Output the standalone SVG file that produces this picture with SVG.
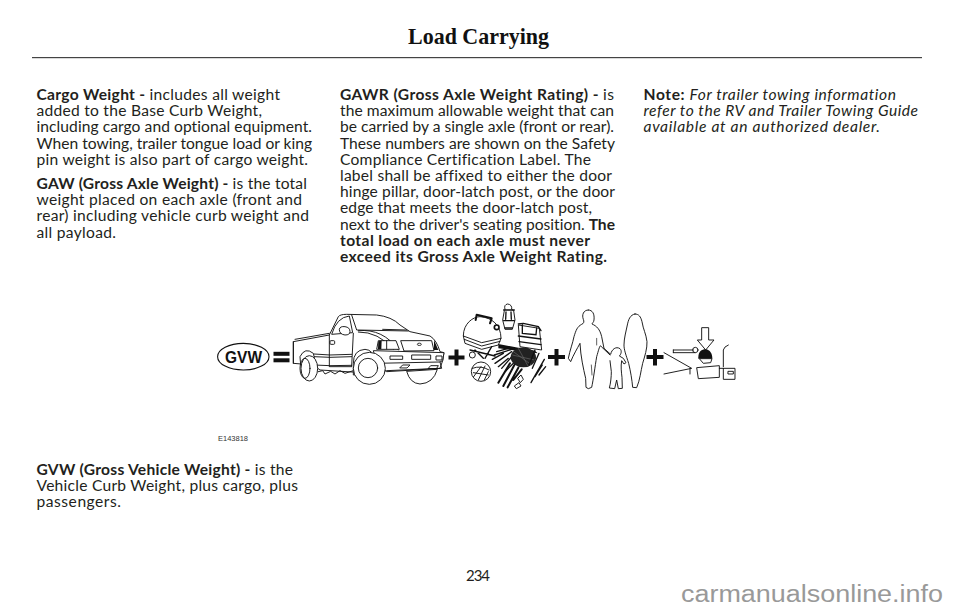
<svg xmlns="http://www.w3.org/2000/svg" width="960" height="611" viewBox="0 0 960 611">
<style>
.t{font-family:"Lato","Open Sans","Liberation Sans",sans-serif;font-size:15.6px;fill:#231f20;font-variant-ligatures:none}
.b{font-weight:700}
.i{font-style:italic}
.h{font-family:"Liberation Serif",serif;font-size:23px;font-weight:700;fill:#111}
.l{fill:none;stroke:#111;stroke-width:2.8;stroke-linejoin:round;stroke-linecap:round}
.n{fill:none;stroke:#111;stroke-width:2;stroke-linejoin:round;stroke-linecap:round}
.w{fill:#fff;stroke:#111;stroke-width:2.8;stroke-linejoin:round}
.k{fill:#111;stroke:none}
.s{fill:none;stroke:#111;stroke-width:6;stroke-linecap:round}
.s2{fill:none;stroke:#111;stroke-width:4;stroke-linecap:round}
</style>
<rect width="960" height="611" fill="#fff"/>
<text class="h" x="408" y="44" textLength="141" lengthAdjust="spacingAndGlyphs">Load Carrying</text>
<rect x="32" y="57" width="890" height="1.200" fill="#444"/>
<g id="col1">
<text class="t" x="36.500" y="100" textLength="243.500"><tspan class="b">Cargo Weight - </tspan>includes all weight</text>
<text class="t" x="36.500" y="116.200" textLength="225.500">added to the Base Curb Weight,</text>
<text class="t" x="36.500" y="132.400" textLength="275.500">including cargo and optional equipment.</text>
<text class="t" x="36.500" y="148.600" textLength="275.500">When towing, trailer tongue load or king</text>
<text class="t" x="36.500" y="164.800" textLength="271.500">pin weight is also part of cargo weight.</text>
<text class="t" x="36.500" y="189" textLength="270.500"><tspan class="b">GAW (Gross Axle Weight) - </tspan>is the total</text>
<text class="t" x="36.500" y="205.200" textLength="265.500">weight placed on each axle (front and</text>
<text class="t" x="36.500" y="221.400" textLength="272.500">rear) including vehicle curb weight and</text>
<text class="t" x="36.500" y="237.600" textLength="79.500">all payload.</text>
</g>
<g id="col2">
<text class="t" x="340" y="100" textLength="274"><tspan class="b">GAWR (Gross Axle Weight Rating) - </tspan> is</text>
<text class="t" x="340" y="116.200" textLength="274">the maximum allowable weight that can</text>
<text class="t" x="340" y="132.400" textLength="274">be carried by a single axle (front or rear).</text>
<text class="t" x="340" y="148.600" textLength="275">These numbers are shown on the Safety</text>
<text class="t" x="340" y="164.800" textLength="251">Compliance Certification Label. The</text>
<text class="t" x="340" y="181" textLength="272">label shall be affixed to either the door</text>
<text class="t" x="340" y="197.200" textLength="275">hinge pillar, door-latch post, or the door</text>
<text class="t" x="340" y="213.400" textLength="252">edge that meets the door-latch post,</text>
<text class="t" x="340" y="229.600" textLength="275">next to the driver's seating position. <tspan class="b">The</tspan></text>
<text class="t b" x="340" y="245.800" textLength="250">total load on each axle must never</text>
<text class="t b" x="340" y="262" textLength="267">exceed its Gross Axle Weight Rating.</text>
</g>
<g id="col3">
<text class="t" x="643.500" y="100" textLength="252.500"><tspan class="b">Note:  </tspan><tspan class="i">For trailer towing information</tspan></text>
<text class="t i" x="643.500" y="116.200" textLength="274.500">refer to the RV and Trailer Towing Guide</text>
<text class="t i" x="643.500" y="132.400" textLength="236.500">available at an authorized dealer.</text>
</g>
<g id="gvw">
<ellipse cx="243.300" cy="356.700" rx="25.700" ry="13.300" fill="#fff" stroke="#111" stroke-width="1.100"/>
<text x="225" y="362.700" textLength="37" lengthAdjust="spacingAndGlyphs" style="font-family:'Liberation Sans',sans-serif;font-size:16.500px;font-weight:700;fill:#111">GVW</text>
<rect class="k" x="273.500" y="351.800" width="16" height="4"/>
<rect class="k" x="273.500" y="358.300" width="16" height="4"/>
</g>
<g id="truck" transform="translate(210,300) scale(.33333)">
<path class="w" d="M250 125L358 105L385 50Q390 43 410 43L500 45Q545 50 570 75L600 95L660 108Q680 120 690 155L702 158L698 182L690 205L530 212L490 220L330 210L310 195L250 190Z"/>
<path class="l" d="M255 118L358 100M358 105L358 200M250 125L250 190M312 162L360 165L425 163M312 170L360 172L425 170M312 195L360 197L425 196M430 100L425 198M360 200L425 200"/>
<path class="w" d="M365 103Q380 52 418 48L428 98Z"/>
<path class="w" d="M388 88Q390 78 405 80Q420 82 420 95Q420 105 405 105Q388 103 388 88Z"/>
<rect class="w" x="360" y="122" width="14" height="11" rx="3"/>
<path class="l" d="M425 45L440 90L595 93M445 92Q520 85 565 150M445 96Q505 95 550 148M518 88L590 90"/>
<path class="w" d="M500 148L505 122L558 122L568 148Z"/>
<path class="k" d="M505 124L515 122L514 147L504 147Z"/>
<path class="l" d="M530 122L530 147"/>
<path class="w" d="M572 122L665 122L672 152L582 153Z"/>
<path class="k" d="M672 120L685 150L672 150Z"/>
<ellipse cx="628" cy="133" rx="6" ry="3.500" fill="#fff" stroke="#111" stroke-width="2.500"/>
<path class="w" d="M490 152L702 158L698 182L690 186L500 190Z"/>
<rect class="w" x="540" y="168" width="38" height="10"/>
<rect class="w" x="605" y="165" width="57" height="13"/>
<rect class="w" x="678" y="168" width="18" height="12"/>
<path class="l" d="M500 190L530 215L695 205L690 186M570 203L578 195L600 195L592 203ZM655 205L662 197L685 197L680 205Z"/>
<path class="w" d="M590 214Q600 250 630 252Q670 250 682 208Z"/>
<path class="w" d="M270 170Q285 140 310 160L318 195L272 195Z"/>
<ellipse class="w" cx="298" cy="205" rx="25" ry="38"/>
<ellipse class="l" cx="285" cy="205" rx="15" ry="30"/>
<path class="l" d="M325 215L338 212L345 222L362 214L375 222L390 212L405 220L430 212"/>
<path class="w" d="M430 190Q430 150 465 148Q490 148 500 190L500 215L430 225Z"/>
<circle class="w" cx="478" cy="205" r="48"/>
<circle class="l" cx="474" cy="204" r="29"/>
</g>
<path id="plus1" class="k" d="M454.500 349.500H458.500V355.500H464.500V359.500H458.500V365.500H454.500V359.500H448.500V355.500H454.500Z"/>
<g id="cargo" transform="translate(455,300) scale(.33333)">
<path class="w" d="M25 108C25 70 55 50 75 50C110 52 138 75 138 115L130 135L80 148L30 130Z"/>
<path class="l" d="M25 108L80 128L138 115M28 118L80 138L135 124"/>
<path class="s" d="M65 44L110 55M65 44L62 60M110 55L105 70"/>
<circle cx="125" cy="82" r="7" fill="#fff" stroke="#111" stroke-width="5"/>
<path class="s2" d="M45 150L120 168M60 150L85 175M110 140L90 175"/>
<circle class="w" cx="52" cy="165" r="9" stroke-width="4"/>
<path class="k" d="M130 132L190 143L240 152L248 160L170 150L130 145Z"/>
<path class="s2" d="M125 155L160 145M118 165L170 148M112 178L145 160M120 190L170 155M130 200L160 175M140 205L175 165M150 215L185 180"/>
<path class="w" d="M150 28Q146 14 158 12Q172 14 170 28L176 32L180 60L172 88L150 88L143 60L148 32Z"/>
<path class="s2" d="M146 30L178 30M146 62L178 62M150 84L172 84M153 36L152 58M168 36L169 58"/>
<path class="w" d="M190 75L253 85L260 150L195 140Z"/>
<path class="s2" d="M190 108L258 117M192 125L258 134M190 72L205 70L250 80L258 92M202 75L202 100L243 104L245 84"/>
<circle class="w" cx="78" cy="215" r="29"/>
<path class="l" d="M52 205Q78 195 102 210M56 230L78 200M70 240L90 198M88 240L100 215M55 218L100 225"/>
<ellipse cx="205" cy="172" rx="38" ry="30" fill="#222"/>
<path d="M172 165L238 180M175 155L230 195M190 145L220 200" stroke="#666" stroke-width="2" fill="none"/>
<path class="s" d="M165 190L130 248M178 195L145 258M190 203L158 262M200 208L175 240"/>
<path class="s2" d="M240 150L222 195M252 160L232 205M268 178L228 248M262 195L240 230M272 200L252 225"/>
<path class="w" d="M188 235L198 225L205 238L196 248Z" stroke-width="4"/>
<path class="w" d="M178 258L192 248L198 258L184 266Z" stroke-width="4"/>
</g>
<path id="plus2" class="k" d="M554.500 349H558.500V355H565V359H558.500V365.500H554.500V359H548V355H554.500Z"/>
<g id="people" transform="translate(440,300) scale(.33333)">
<path class="l" d="M445 30C430 30 425 45 430 58C433 65 432 70 425 73C412 80 408 90 402 110C398 130 390 150 385 175L392 185C400 165 412 145 420 130C422 170 430 205 437 235L438 262L445 266L455 262C460 240 465 200 470 170C476 150 480 130 484 140L510 165M445 30C458 30 464 42 462 60C462 66 456 70 456 72C470 78 480 88 485 110L492 145"/>
<path class="n" d="M470 115L470 135M454 195L456 225" stroke-width="4"/>
<path class="l" d="M585 42C570 44 565 60 562 75C558 95 552 115 552 135C552 150 558 165 566 190C572 215 576 240 578 262L590 263C600 240 602 215 608 190C614 170 622 145 621 125C618 100 610 90 606 65C602 50 597 42 585 42Z"/>
<path class="l" d="M492 145L512 163C515 148 528 138 540 146C546 152 544 162 538 168L550 175L558 188L552 192L545 182C542 200 544 215 546 232L547 265L535 266L530 240L524 266L508 264C512 250 514 230 514 215L510 182"/>
</g>
<path id="plus3" class="k" d="M653 349H657V355H663.500V359H657V365.500H653V359H646.500V355H653Z"/>
<g id="tongue" transform="translate(440,300) scale(.33333)">
<path class="w" d="M785 83L806 83L806 120L822 120L797 150L772 120L785 120Z"/>
<path class="l" d="M672 158L755 205L672 222M750 205L750 222M700 150L760 150M700 158L765 158M700 150L700 158"/>
<circle class="l" cx="766" cy="150" r="8"/>
<path class="k" d="M775 172C775 155 785 148 797 148C810 150 817 160 817 176L775 176Z"/>
<path class="w" d="M778 176L816 176L812 188L790 190Z"/>
<path class="w" d="M770 203L838 197L838 232L775 236Z"/>
<path class="l" d="M838 205L885 205L885 238L850 238L850 205M850 200L850 150Q852 140 865 135"/>
<rect class="l" x="865" y="214" width="15" height="8"/>
</g>
<text id="code" x="218" y="441" style="font-family:'Liberation Sans',sans-serif;font-size:7.500px;fill:#333">E143818</text>
<g id="col1b">
<text class="t" x="36.500" y="475" textLength="256.500"><tspan class="b">GVW (Gross Vehicle Weight) - </tspan>is the</text>
<text class="t" x="36.500" y="491.200" textLength="261.500">Vehicle Curb Weight, plus cargo, plus</text>
<text class="t" x="36.500" y="507.400" textLength="84.500">passengers.</text>
</g>
<text id="page" x="466" y="581" textLength="24" style="font-family:'Lato','Open Sans',sans-serif;font-size:15px;fill:#231f20">234</text>
<text id="watermark" x="681" y="601.700" style="font-family:'Liberation Sans',sans-serif;font-size:23px;fill:#999" textLength="262" lengthAdjust="spacingAndGlyphs">carmanualsonline.info</text>
</svg>
